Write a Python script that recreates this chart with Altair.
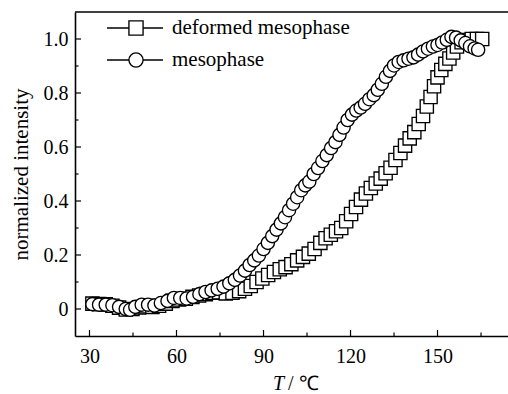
import altair as alt
import pandas as pd

# ---- data ----
meso_T = [31.0, 33.3, 35.6, 37.9, 40.2, 42.5, 44.0, 45.8, 48.0, 50.2, 52.4, 54.6, 56.9, 59.1,
          61.3, 63.5, 65.7, 67.9, 70.0, 72.1, 74.2, 76.2, 78.2, 80.1, 81.9, 83.6, 85.2, 86.8,
          88.4, 90.0, 91.5, 93.0, 94.5, 96.0, 97.4, 98.8, 100.2, 101.6, 103.0, 104.4, 105.8,
          107.3, 108.8, 110.3, 111.8, 113.3, 114.8, 116.2, 117.6, 119.0, 120.5, 122.0, 123.5,
          125.0, 126.5, 128.0, 129.4, 130.8, 132.2, 133.6, 135.0, 136.6, 138.3, 140.0, 141.7,
          143.3, 145.0, 146.7, 148.4, 150.0, 151.6, 153.2, 154.8, 156.4, 158.0, 159.6, 161.2,
          162.8, 164.0]
meso_I = [0.018, 0.016, 0.016, 0.014, 0.008, 0.000, -0.003, 0.008, 0.016, 0.016, 0.013, 0.022,
          0.030, 0.041, 0.041, 0.039, 0.045, 0.055, 0.063, 0.069, 0.075, 0.083, 0.095, 0.108,
          0.124, 0.142, 0.163, 0.180, 0.198, 0.222, 0.245, 0.270, 0.294, 0.317, 0.340, 0.366,
          0.390, 0.414, 0.440, 0.458, 0.472, 0.500, 0.522, 0.548, 0.570, 0.596, 0.618, 0.645,
          0.672, 0.700, 0.720, 0.735, 0.746, 0.760, 0.777, 0.792, 0.812, 0.834, 0.860, 0.882,
          0.902, 0.915, 0.921, 0.927, 0.932, 0.942, 0.954, 0.964, 0.972, 0.978, 0.987, 0.997,
          1.008, 1.005, 0.995, 0.985, 0.973, 0.965, 0.960]

def_T = [31.0, 33.3, 35.6, 37.9, 40.2, 42.5, 44.8, 47.1, 49.4, 51.7, 54.0, 56.3, 58.6, 60.9,
         63.2, 65.5, 67.8, 70.1, 72.4, 74.7, 77.0, 79.3, 81.6, 83.6, 85.6, 87.6, 89.6, 91.6,
         93.6, 95.6, 97.6, 99.6, 101.6, 103.6, 105.6, 107.6, 109.6, 111.4, 113.2, 115.0, 116.8,
         118.5, 120.2, 121.9, 123.6, 125.3, 127.0, 128.7, 130.4, 132.1, 133.8, 135.5, 137.2,
         138.8, 140.4, 142.0, 143.5, 145.0, 146.3, 147.6, 148.8, 150.0, 151.3, 152.7, 154.1,
         155.4, 156.7, 158.3, 160.0, 161.8, 163.6, 165.4]
def_I = [0.020, 0.018, 0.017, 0.012, 0.005, -0.002, 0.000, 0.006, 0.010, 0.008, 0.012, 0.020,
         0.030, 0.035, 0.038, 0.045, 0.050, 0.055, 0.060, 0.062, 0.058, 0.060, 0.066, 0.075,
         0.085, 0.100, 0.113, 0.126, 0.137, 0.147, 0.155, 0.166, 0.180, 0.193, 0.205, 0.222,
         0.245, 0.262, 0.275, 0.288, 0.300, 0.325, 0.352, 0.378, 0.405, 0.428, 0.448, 0.465,
         0.483, 0.503, 0.523, 0.552, 0.578, 0.605, 0.632, 0.655, 0.685, 0.715, 0.750, 0.785,
         0.825, 0.858, 0.885, 0.908, 0.928, 0.950, 0.972, 0.988, 0.996, 1.000, 1.000, 1.000]

series_names = ["deformed mesophase", "mesophase"]
series_shapes = ["square", "circle"]
x_major = [30, 60, 90, 120, 150]
x_minor = [45, 75, 105, 135, 165]
y_major = [0, 0.2, 0.4, 0.6, 0.8, 1.0]
y_minor = [0.1, 0.3, 0.5, 0.7, 0.9]

# ---- layout / style ----
W, H = 433, 324
XDOM = [25, 174.3]
YDOM = [-0.1, 1.1]
FONT = "Liberation Serif"
LW = 1.6
LEG_ROW_Y = [16, 48]          # legend rows (pixels from the plot top)
LEG_LINE = (32, 88)           # legend line segment (pixels from the plot left)
LEG_SYM_X = 61
LEG_TEXT_X = 97

df_def = pd.DataFrame({"T": def_T, "I": def_I})
df_meso = pd.DataFrame({"T": meso_T, "I": meso_I})

xs = alt.Scale(domain=XDOM, nice=False, zero=False)
ys = alt.Scale(domain=YDOM, nice=False, zero=False)

x_axis = alt.Axis(
    values=x_major, ticks=False, grid=False, title=None, labelPadding=10,
    labelFont=FONT, labelFontSize=20, labelColor="black", format="d",
    domainColor="black", domainWidth=LW)
y_axis = alt.Axis(
    values=y_major, ticks=False, grid=False, title="normalized intensity",
    titleFont=FONT, titleFontSize=21, titleFontWeight="normal", titleColor="black",
    titlePadding=12,
    labelExpr="datum.value == 0 ? '0' : format(datum.value, '.1f')",
    labelPadding=7, labelFont=FONT, labelFontSize=20, labelColor="black",
    domainColor="black", domainWidth=LW)


def series_layer(data, shape):
    return alt.Chart(data).mark_point(
        shape=shape, fill="white", stroke="black", strokeWidth=1.35, opacity=1, size=175
    ).encode(
        x=alt.X("T:Q", scale=xs, axis=x_axis),
        y=alt.Y("I:Q", scale=ys, axis=y_axis),
    )


squares = series_layer(df_def, series_shapes[0])
circles = series_layer(df_meso, series_shapes[1])


def ticks_x(vals, length):
    return alt.Chart(pd.DataFrame({"T": vals})).mark_rule(color="black", strokeWidth=1.2).encode(
        x=alt.X("T:Q", scale=xs, axis=x_axis), y=alt.value(H), y2=alt.value(H - length))


def ticks_y(vals, length):
    return alt.Chart(pd.DataFrame({"I": vals})).mark_rule(color="black", strokeWidth=1.2).encode(
        y=alt.Y("I:Q", scale=ys, axis=y_axis), x=alt.value(0), x2=alt.value(length))


top_line = alt.Chart(pd.DataFrame({"v": [0]})).mark_rule(color="black", strokeWidth=LW).encode(
    x=alt.value(0), x2=alt.value(W), y=alt.value(0))

# ---- legend (drawn as marks) ----
legend_layers = []
for name, shp, ry in zip(series_names, series_shapes, LEG_ROW_Y):
    ldf = pd.DataFrame({"label": [name]})
    base = alt.Chart(ldf)
    legend_layers.append(base.mark_rule(color="black", strokeWidth=1.3).encode(
        x=alt.value(LEG_LINE[0]), x2=alt.value(LEG_LINE[1]), y=alt.value(ry)))
    legend_layers.append(base.mark_point(
        shape=shp, fill="white", stroke="black", strokeWidth=1.35, opacity=1, size=200
    ).encode(x=alt.value(LEG_SYM_X), y=alt.value(ry)))
    legend_layers.append(base.mark_text(
        font=FONT, fontSize=21, align="left", baseline="middle", color="black"
    ).encode(text="label:N", x=alt.value(LEG_TEXT_X), y=alt.value(ry)))

t_label = alt.Chart(pd.DataFrame({"s": ["T"]})).mark_text(
    font=FONT, fontSize=20, fontStyle="italic", align="right", baseline="alphabetic",
    color="black").encode(text="s:N", x=alt.value(209), y=alt.value(378))
unit_label = alt.Chart(pd.DataFrame({"s": ["/ ℃"]})).mark_text(
    font=FONT, fontSize=20, align="left", baseline="alphabetic",
    color="black").encode(text="s:N", x=alt.value(213), y=alt.value(378))

chart = alt.layer(
    squares, circles, ticks_x(x_major, 6), ticks_x(x_minor, 3.5), ticks_y(y_major, 6),
    ticks_y(y_minor, 3.5), top_line, *legend_layers, t_label, unit_label
).properties(
    width=W, height=H, autosize=alt.AutoSizeParams(type="none"),
    padding={"left": 75, "top": 12, "right": 0, "bottom": 58},
    background="white"
).configure(font=FONT).configure_view(stroke=None).configure_axis(
    labelFont=FONT, titleFont=FONT, labelFontSize=20, titleFontSize=21,
    labelColor="black", titleColor="black", titleFontWeight="normal")

chart.save("out.html", embed_options={"renderer": "svg", "actions": False})
